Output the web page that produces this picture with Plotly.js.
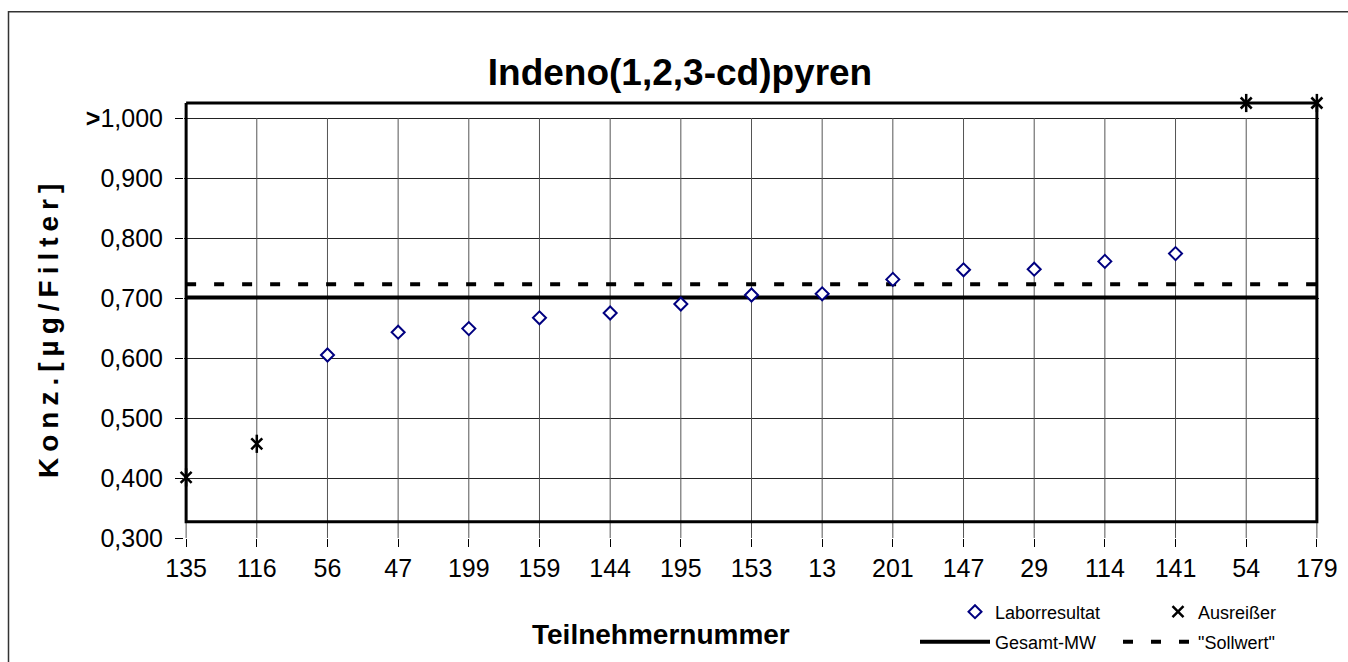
<!DOCTYPE html>
<html>
<head>
<meta charset="utf-8">
<script src="https://cdn.plot.ly/plotly-3.0.1.min.js"></script>
<style>
html,body{margin:0;padding:0;background:#fff;}
#chart{width:1348px;height:662px;}
#chart .annotation[data-index="1"] text{letter-spacing:6px;}
</style>
</head>
<body>
<div id="chart"></div>
<script>
// ---- data ----
const categories = ['135','116','56','47','199','159','144','195','153','13','201','147','29','114','141','54','179'];
const laborCats = ['56','47','199','159','144','195','153','13','201','147','29','114','141'];
const laborValues = [0.605, 0.643, 0.649, 0.667, 0.675, 0.690, 0.705, 0.707, 0.731, 0.747, 0.748, 0.761, 0.774];
const outlierCats = ['135','116','54','179'];
const outlierValues = [0.401, 0.457, 1.025, 1.025];
const gesamtMW = 0.701;
const sollwert = 0.723;
const yTickVals = [0.3, 0.4, 0.5, 0.6, 0.7, 0.8, 0.9, 1.0];
const yTickText = ['0,300','0,400','0,500','0,600','0,700','0,800','0,900','<b>&gt;</b>1,000'];
const yMin = 0.3, yMaxGrid = 1.0, yMaxPlot = 1.03;
const frameTop = 1.025, frameBottom = 0.327;

const FONT = 'Arial, "Liberation Sans", sans-serif';
const first = categories[0], last = categories[categories.length - 1];

// vertical gridlines (stop at the 1,000 gridline) built from the category list
const gridX = [], gridY = [];
categories.forEach(c => { gridX.push(c, c, null); gridY.push(yMin, yMaxGrid, null); });

const traces = [
  {x:gridX, y:gridY, type:'scatter', mode:'lines', showlegend:false, hoverinfo:'skip',
   line:{color:'#555', width:1}, connectgaps:false},
  {x:[first, last, last, first, first], y:[frameTop, frameTop, frameBottom, frameBottom, frameTop],
   type:'scatter', mode:'lines', showlegend:false, hoverinfo:'skip', cliponaxis:false,
   line:{color:'#000', width:3}},
  {x:[first,last], y:[gesamtMW,gesamtMW], type:'scatter', mode:'lines', name:'Gesamt-MW',
   line:{color:'#000', width:4}, legend:'legend2', hoverinfo:'skip'},
  {x:[first,last], y:[sollwert,sollwert], type:'scatter', mode:'lines', name:'"Sollwert"',
   line:{color:'#000', width:4, dash:'10px,18px'}, legend:'legend2', hoverinfo:'skip'},
  {x:laborCats, y:laborValues, type:'scatter', mode:'markers', name:'Laborresultat',
   marker:{symbol:'diamond', size:10, color:'#fff', line:{color:'#000080', width:2}},
   legend:'legend', cliponaxis:false},
  {x:outlierCats, y:outlierValues, type:'scatter', mode:'markers', name:'Ausreißer',
   marker:{symbol:'x-thin-open', size:11, color:'#000', line:{color:'#000', width:2.5}},
   legend:'legend', cliponaxis:false},
  {x:outlierCats, y:outlierValues, type:'scatter', mode:'markers', showlegend:false,
   marker:{symbol:'line-ns-open', size:13, color:'#000', line:{color:'#000', width:2.5}},
   cliponaxis:false, hoverinfo:'skip'}
];

// pixel layout: 0.300 at y=538, 1.000 at y=118 (600 px per unit); first category at x=186, last at x=1317
const pad = 0.03;                       // small x padding so edge lines are not clipped
const xFirstPx = 186, xLastPx = 1317, plotB = 538;
const nSteps = categories.length - 1;
const pxPerCat = (xLastPx - xFirstPx) / nSteps;
const plotL = Math.round(xFirstPx - pad * pxPerCat);
const plotR = Math.round(xLastPx + pad * pxPerCat);
const pxPerUnit = 420 / (yMaxGrid - yMin);
const plotT = Math.round(plotB - (yMaxPlot - yMin) * pxPerUnit);
const pw = plotR - plotL, ph = plotB - plotT;
const px = v => (v - plotL) / pw;
const py = v => (plotB - v) / ph;

const layout = {
  width:1348, height:662,
  margin:{l:plotL, r:1348-plotR, t:plotT, b:662-plotB, autoexpand:false},
  paper_bgcolor:'#fff', plot_bgcolor:'#fff',
  separators:',.',
  font:{family:FONT, color:'#000', size:25},
  title:{text:'<b>Indeno(1,2,3-cd)pyren</b>', font:{family:FONT, size:37, color:'#000'},
         x:680/1348, xanchor:'center', y:1-72/662, yanchor:'middle', xref:'container', yref:'container'},
  xaxis:{type:'category', categoryorder:'array', categoryarray:categories,
         range:[-pad, nSteps + pad], showgrid:false,
         ticks:'outside', ticklen:8, tickcolor:'#000', tickwidth:1,
         showline:false, zeroline:false, tickfont:{size:25}, fixedrange:true},
  yaxis:{range:[yMin, yMaxPlot], tickvals:yTickVals, ticktext:yTickText,
         showgrid:true, gridcolor:'#222', gridwidth:1,
         ticks:'outside', ticklen:8, tickcolor:'#000', tickwidth:1, ticklabelstandoff:7,
         showline:false, zeroline:false, tickfont:{size:25}, fixedrange:true},
  legend:{orientation:'h', x:px(955), xanchor:'left', y:py(612), yanchor:'middle',
          font:{size:18}, entrywidth:158, bgcolor:'rgba(0,0,0,0)', borderwidth:0},
  legend2:{orientation:'h', x:px(915), xanchor:'left', y:py(642), yanchor:'middle',
          font:{size:18}, itemwidth:70, entrywidth:118, bgcolor:'rgba(0,0,0,0)', borderwidth:0},
  annotations:[
    {text:'<b>Teilnehmernummer</b>', xref:'paper', yref:'paper', x:px(661), y:py(634),
     xanchor:'center', yanchor:'middle', showarrow:false, font:{size:28}},
    {text:'<b>Konz.[µg/Filter]</b>', xref:'paper', yref:'paper', x:px(48), y:py(328),
     xanchor:'center', yanchor:'middle', textangle:-90, showarrow:false, font:{size:28}}
  ],
  shapes:[
    {type:'rect', xref:'paper', yref:'paper', x0:px(8.5), x1:px(1360), y0:py(680), y1:py(11.7),
     line:{color:'#333', width:1.5}, fillcolor:'rgba(0,0,0,0)'}
  ],
  showlegend:true
};

Plotly.newPlot('chart', traces, layout, {displayModeBar:false, staticPlot:true});
</script>
</body>
</html>
